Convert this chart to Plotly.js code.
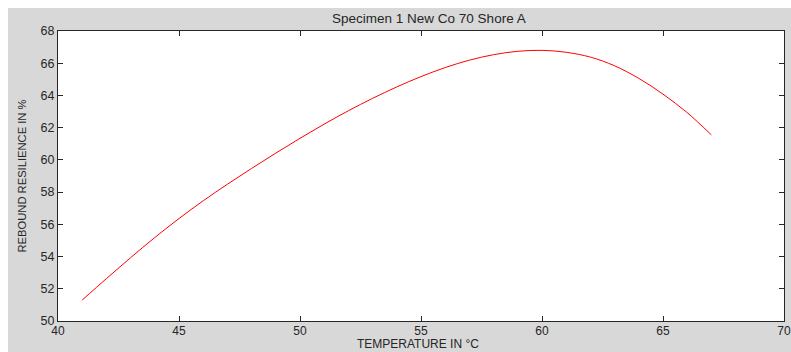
<!DOCTYPE html>
<html>
<head>
<meta charset="utf-8">
<script src="https://cdn.plot.ly/plotly-3.0.1.min.js"></script>
<style>
  html, body { margin: 0; padding: 0; background: #ffffff; width: 791px; height: 352px; overflow: hidden; }
  #chart { position: absolute; left: 8px; top: 8px; width: 783px; height: 344px; }
</style>
</head>
<body>
<div id="chart"></div>
<script>
// Temperature (°C)
const temperature = [41, 42, 43, 44, 45, 46, 47, 48, 49, 50, 51, 52, 53, 54,
                     55, 56, 57, 58, 59, 60, 61, 62, 63, 64, 65, 66, 67];
// Rebound resilience (%)
const resilience = [51.30, 52.63, 53.93, 55.18, 56.36, 57.46, 58.49, 59.47, 60.42,
                    61.34, 62.22, 63.05, 63.82, 64.53, 65.17, 65.73, 66.19, 66.53,
                    66.74, 66.80, 66.68, 66.38, 65.84, 65.06, 64.08, 62.93, 61.55];
const xTicks = [40, 45, 50, 55, 60, 65, 70];
const yTicks = [50, 52, 54, 56, 58, 60, 62, 64, 66, 68];
const xTitle = 'TEMPERATURE IN °C';
const yTitle = 'REBOUND RESILIENCE IN %';
const chartTitle = 'Specimen 1 New Co 70 Shore A';

const fontFamily = 'Liberation Sans, Arial, sans-serif';
const textColor = '#262626';

const trace = {
  x: temperature,
  y: resilience,
  type: 'scatter',
  mode: 'lines',
  line: { color: '#ff0000', width: 1, shape: 'spline', smoothing: 1 },
  hoverinfo: 'skip'
};

const axisCommon = {
  showline: true,
  linecolor: '#262626',
  linewidth: 1,
  mirror: 'ticks',
  ticks: 'inside',
  ticklen: 5,
  tickwidth: 1,
  tickcolor: '#262626',
  showgrid: false,
  zeroline: false,
  automargin: false,
  tickfont: { family: fontFamily, size: 12.5, color: textColor }
};

const layout = {
  width: 783,
  height: 344,
  margin: { l: 50, r: 7, t: 23, b: 31 },
  paper_bgcolor: '#d8d8d8',
  plot_bgcolor: '#ffffff',
  showlegend: false,
  title: {
    text: chartTitle,
    font: { family: fontFamily, size: 13.5, color: textColor },
    x: 0.5375, xanchor: 'center',
    y: 0.969, yanchor: 'middle'
  },
  xaxis: Object.assign({}, axisCommon, {
    range: [40, 70],
    tickvals: xTicks,
    ticktext: xTicks.map(String),
    tickfont: { family: fontFamily, size: 12, color: textColor },
    ticklabelstandoff: -1
  }),
  yaxis: Object.assign({}, axisCommon, {
    range: [50, 68],
    tickvals: yTicks,
    ticktext: yTicks.map(String),
    title: { text: yTitle, font: { family: fontFamily, size: 11.2, color: textColor } }
  }),
  annotations: [{
    text: xTitle,
    xref: 'paper', yref: 'paper',
    x: 0.4959, y: 0,
    xanchor: 'center', yanchor: 'bottom',
    yshift: -31,
    showarrow: false,
    borderpad: 0,
    font: { family: fontFamily, size: 12, color: textColor }
  }]
};

Plotly.newPlot('chart', [trace], layout, { displayModeBar: false, staticPlot: true });
</script>
</body>
</html>
